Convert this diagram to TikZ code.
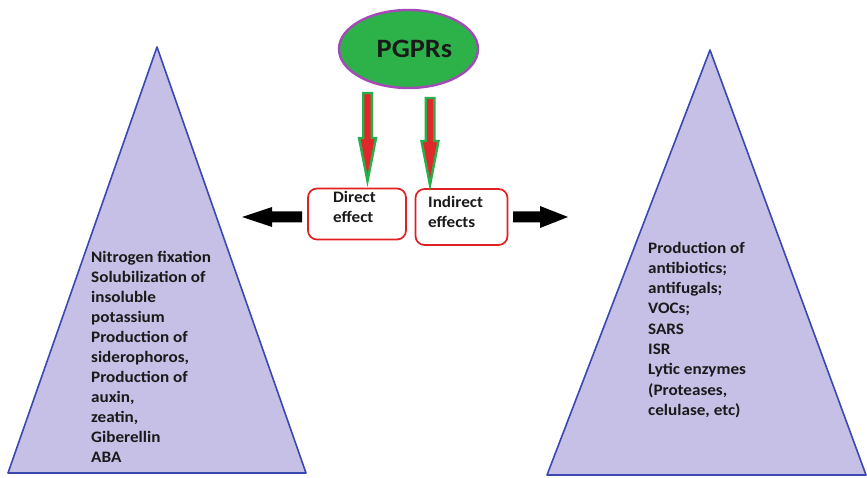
\documentclass[tikz,border=0pt]{standalone}
\usepackage{fontspec}
\setmainfont{Carlito}
\newfontfamily\widefont{Carlito}[FakeStretch=1.07]
\usetikzlibrary{shapes.geometric}
\definecolor{lav}{HTML}{C6BFE6}
\definecolor{triblue}{HTML}{3A48B0}
\definecolor{pgreen}{HTML}{2DB24A}
\definecolor{ppurple}{HTML}{A349B8}
\definecolor{ared}{HTML}{E0282A}
\definecolor{agreen}{HTML}{25B04A}
\definecolor{bred}{HTML}{E02020}
\definecolor{txt}{HTML}{1A1A1A}
\tikzset{
  tri/.style={fill=lav, draw=triblue, line width=1.6pt, line join=round},
  blockdown/.style={fill=ared, draw=agreen, line width=2.4pt, line join=miter},
  blockside/.style={fill=black},
  effbox/.style={draw=bred, line width=1.7pt, rounded corners=9pt, fill=white},
  efftext/.style={font=\widefont\fontsize{16}{20}\selectfont\bfseries, text=txt, align=left, inner sep=0pt, anchor=base west},
  listtext/.style={font=\widefont\fontsize{16}{20}\selectfont\bfseries, text=txt, align=left, inner sep=0pt, anchor=base west}
}
\begin{document}
\begin{tikzpicture}[x=1pt,y=-1pt]
\useasboundingbox (0,0) rectangle (867,478);
\fill[white] (0,0) rectangle (867,478);
% triangles
\filldraw[tri] (157,47) -- (8,473) -- (306,473) -- cycle;
\filldraw[tri] (710,50) -- (547,475) -- (866,475) -- cycle;
% ellipse
\node[ellipse, fill=pgreen, draw=ppurple, line width=2.4pt, minimum width=139pt, minimum height=78pt, inner sep=0pt]
  (pg) at (408.5,49) {};
\node[font=\widefont\fontsize{26.5}{30}\selectfont\bfseries, text=txt, inner sep=0pt, anchor=base] (pgtext) at (414.5,57.5) {PGPRs};
% boxes
\node[effbox, minimum width=98pt, minimum height=51pt] (direct) at (357,214) {};
\node[effbox, minimum width=92pt, minimum height=56pt] (indirect) at (461.5,217) {};
\node[efftext] (dtext) at (333,223) {Direct\\effect};
\node[efftext] (itext) at (428,228) {Indirect\\effects};
% vertical block arrows
\filldraw[blockdown] (363.2,93) -- (371.8,93) -- (371.8,138) -- (376,138) -- (367.5,181) -- (359,138) -- (363.2,138) -- cycle;
\filldraw[blockdown] (425.7,98) -- (434.3,98) -- (434.3,141) -- (438.5,141) -- (430,185) -- (421.5,141) -- (425.7,141) -- cycle;
% horizontal black arrows
\fill[blockside] (302,211.5) -- (272,211.5) -- (272,207) -- (242,217) -- (272,227) -- (272,222.5) -- (302,222.5) -- cycle;
\fill[blockside] (513,211.5) -- (540,211.5) -- (540,206) -- (568,217) -- (540,228) -- (540,222.5) -- (513,222.5) -- cycle;
% list texts
\node[listtext] (ltext) at (91,462) {Nitrogen fixation\\Solubilization of\\insoluble\\potassium\\Production of\\siderophoros,\\Production of\\auxin,\\zeatin,\\Giberellin\\ABA};
\node[listtext, font=\widefont\fontsize{16}{20.3}\selectfont\bfseries] (rtext) at (648,415.4) {Production of\\antibiotics;\\antifugals;\\VOCs;\\SARS\\ISR\\Lytic enzymes\\(Proteases,\\celulase, etc)};
\end{tikzpicture}
\end{document}
